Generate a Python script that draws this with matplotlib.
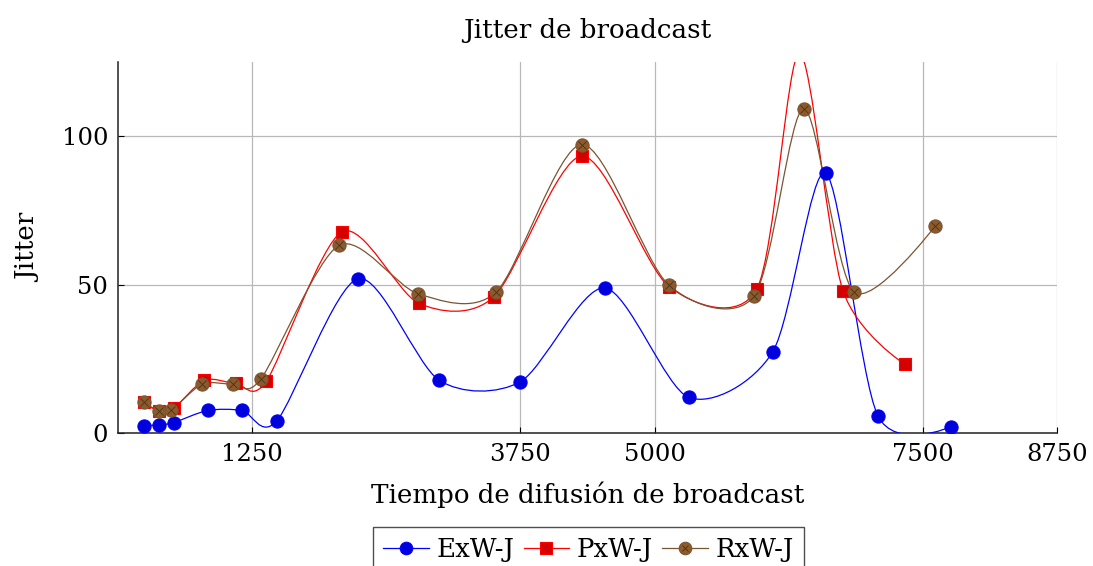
import numpy as np
import matplotlib
matplotlib.use("Agg")
import matplotlib.pyplot as plt
from matplotlib.path import Path
from matplotlib.patches import PathPatch
from matplotlib.lines import Line2D
from matplotlib.legend_handler import HandlerTuple

# ---- data ----
exw_x = [238, 378, 518, 837, 1157, 1480, 2237, 2992, 3750, 4535, 5318, 6100, 6594, 7081, 7764]
exw_y = [2.5, 2.7, 3.5, 7.6, 7.6, 4.1, 52.0, 17.8, 17.3, 48.9, 12.0, 27.3, 87.6, 5.8, 2.1]

pxw_x = [238, 378, 518, 806, 1098, 1381, 2088, 2803, 3500, 4321, 5138, 5951, 6350, 6755, 7330]
pxw_y = [10.3, 7.5, 8.3, 17.8, 16.7, 17.4, 67.8, 43.7, 45.8, 93.3, 49.2, 48.4, 128.0, 48.0, 23.2]

rxw_x = [238, 378, 496, 785, 1070, 1331, 2058, 2797, 3520, 4321, 5131, 5926, 6389, 6857, 7615]
rxw_y = [10.3, 7.5, 7.7, 16.5, 16.5, 18.2, 63.2, 46.9, 47.4, 97.2, 49.9, 46.1, 109.3, 47.6, 69.7]

series_names = ["ExW-J", "PxW-J", "RxW-J"]
x_ticks = [1250, 3750, 5000, 7500, 8750]
y_ticks = [0, 50, 100]

FONT = "DejaVu Serif"
FS = 18.8       # title / axis labels
FS_TICK = 17.5  # tick labels
FS_LEG = 18.7   # legend
plt.rcParams['font.family'] = [FONT]
plt.rcParams['mathtext.fontset'] = 'dejavuserif'

TENSION = 0.2775 * 0.5  # smooth-curve control point factor


def smooth_path(xs, ys):
    P = np.column_stack([xs, ys]).astype(float)
    n = len(P)
    verts = [P[0]]
    codes = [Path.MOVETO]
    for i in range(n - 1):
        if i == 0:
            c1 = P[0]
        else:
            c1 = P[i] + TENSION * (P[i + 1] - P[i - 1])
        if i + 1 == n - 1:
            c2 = P[n - 1]
        else:
            c2 = P[i + 1] - TENSION * (P[i + 2] - P[i])
        verts += [c1, c2, P[i + 1]]
        codes += [Path.CURVE4] * 3
    return Path(np.array(verts), codes)


fig = plt.figure(figsize=(10.93, 5.66), dpi=100)
ax = fig.add_axes([118 / 1093, (566 - 433) / 566, (1057 - 118) / 1093, (433 - 62) / 566])

blue = '#0000ff'
red = '#ff0000'
brown = '#7a5533'

styles = [
    dict(color=blue, marker='o', mfc='#0000dd', mec=blue, ms=9.5),
    dict(color=red, marker='s', mfc='#d40000', mec=red, ms=8.5),
    dict(color=brown, marker='o', mfc='#8c5a2b', mec='#7a5533', ms=9.5),
]
data = [(exw_x, exw_y), (pxw_x, pxw_y), (rxw_x, rxw_y)]

for (xs, ys), st in zip(data, styles):
    patch = PathPatch(smooth_path(xs, ys), facecolor='none', edgecolor=st['color'], lw=0.9, zorder=3)
    ax.add_patch(patch)
    ax.plot(xs, ys, linestyle='none', marker=st['marker'], mfc=st['mfc'], mec=st['mec'],
            ms=st['ms'], mew=0.8, zorder=4)
# otimes cross for brown markers
ax.plot(rxw_x, rxw_y, linestyle='none', marker='x', color='#4a3018', ms=5.5, mew=0.6, zorder=5)

ax.set_xlim(0, 8750)
ax.set_ylim(0, 125)
ax.set_xticks(x_ticks)
ax.set_yticks(y_ticks)
ax.grid(True, color='#b8b8b8', lw=0.9)
ax.set_axisbelow(True)
for s in ['top', 'right']:
    ax.spines[s].set_visible(False)
for s in ['left', 'bottom']:
    ax.spines[s].set_color('#222222')
    ax.spines[s].set_linewidth(1.1)
ax.tick_params(direction='in', length=4, width=0.8, labelsize=FS_TICK, pad=7)

ax.set_title("Jitter de broadcast", fontsize=FS, pad=17)
ax.set_xlabel("Tiempo de difusión de broadcast", fontsize=FS, labelpad=11)
ax.set_ylabel("Jitter", fontsize=FS, labelpad=15)

handles = []
for i, st in enumerate(styles):
    h = Line2D([0], [0], color=st['color'], lw=0.9, marker=st['marker'], mfc=st['mfc'],
               mec=st['mec'], ms=st['ms'] * 0.95, mew=0.8)
    if i == 2:
        hx = Line2D([0], [0], linestyle='none', marker='x', color='#4a3018', ms=5, mew=0.6)
        h = (h, hx)
    handles.append(h)

leg = fig.legend(handles, series_names, loc='upper center',
                 bbox_to_anchor=(588.5 / 1093, (566 - 527) / 566),
                 ncol=3, fontsize=FS_LEG, frameon=True, fancybox=False, edgecolor='#222222',
                 handlelength=1.75, handletextpad=0.3, columnspacing=0.35, borderpad=0.4,
                 borderaxespad=0.0,
                 handler_map={tuple: HandlerTuple(ndivide=1)})
leg.get_frame().set_linewidth(1.0)

fig.savefig("out.png", dpi=100)
